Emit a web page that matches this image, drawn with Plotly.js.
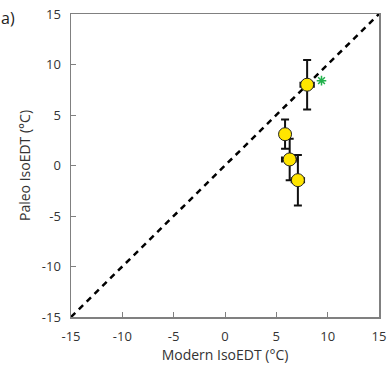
<!DOCTYPE html>
<html><head><meta charset="utf-8">
<script src="https://cdn.plot.ly/plotly-3.0.1.min.js"></script>
<style>html,body{margin:0;padding:0;background:#fff}#plot{width:390px;height:380px}</style>
</head><body><div id="plot"></div>
<script>
const modernT = [8.0, 5.85, 6.3, 7.1];
const paleoT = [8.0, 3.1, 0.6, -1.45];
const modernErr = [0.65, 0.4, 0.75, 0.6];
const paleoErr = [2.45, 1.45, 2.05, 2.5];
const oneToOne = [-15, 15];
const starX = [9.4];
const starY = [8.4];
const ticks = [-15, -10, -5, 0, 5, 10, 15];
const tickLabels = ['-15', '-10', '-5', '0', '5', '10', '15'];

const traces = [
  {x: oneToOne, y: oneToOne, mode: 'lines', line: {color: '#000', width: 2.5, dash: '6px,5px'}, hoverinfo: 'skip'},
  {x: modernT, y: paleoT, mode: 'markers',
   marker: {size: 13, color: '#FFE500', line: {color: '#222', width: 1}},
   error_y: {type: 'data', array: paleoErr, visible: true, color: '#111', thickness: 2, width: 4},
   error_x: {type: 'data', array: modernErr, visible: true, color: '#111', thickness: 2, width: 3}},
  {x: starX, y: starY, mode: 'markers', marker: {symbol: 'asterisk-open', size: 8, color: '#22B14C', line: {color: '#22B14C', width: 1.5}}}
];

const axisBase = {range: [-15, 15], tickvals: ticks, ticktext: tickLabels, ticks: 'inside', ticklen: 5, tickcolor: '#808080',
  showline: true, linecolor: '#808080', linewidth: 1.5, mirror: true, showgrid: false, zeroline: false,
  tickfont: {family: 'Open Sans', size: 13, color: '#333'}};

const layout = {
  width: 390, height: 380,
  margin: {l: 71, r: 11, t: 14, b: 63},
  showlegend: false,
  paper_bgcolor: '#fff', plot_bgcolor: '#fff',
  xaxis: Object.assign({}, axisBase, {ticklabelstandoff: 7, title: {text: 'Modern IsoEDT (°C)', font: {family: 'Open Sans', size: 14, color: '#333'}, standoff: 4}}),
  yaxis: Object.assign({}, axisBase, {ticklabelstandoff: 6, title: {text: 'Paleo IsoEDT (°C)', font: {family: 'Open Sans', size: 14, color: '#333'}, standoff: 8}}),
  annotations: [{text: 'a)', xref: 'paper', yref: 'paper', x: -0.235, y: 1.03, xanchor: 'left', yanchor: 'top', showarrow: false, font: {family: 'Open Sans', size: 16, color: '#222'}}]
};
Plotly.newPlot('plot', traces, layout, {displayModeBar: false, staticPlot: true});
</script></body></html>
